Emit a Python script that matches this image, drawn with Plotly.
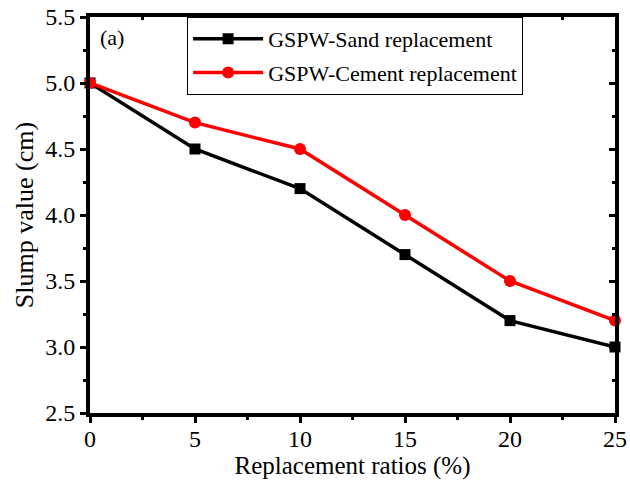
import plotly.graph_objects as go

ratios = [0, 5, 10, 15, 20, 25]
sand_slump = [5.0, 4.5, 4.2, 3.7, 3.2, 3.0]
cement_slump = [5.0, 4.7, 4.5, 4.0, 3.5, 3.2]
sand_name = "GSPW-Sand replacement"
cement_name = "GSPW-Cement replacement"
x_ticks = [0, 5, 10, 15, 20, 25]
y_ticks = [2.5, 3.0, 3.5, 4.0, 4.5, 5.0, 5.5]

FONT = "Liberation Serif"

fig = go.Figure()
fig.add_trace(go.Scatter(x=ratios, y=sand_slump, name=sand_name, mode="lines+markers",
                         legendgroup="a",
                         line=dict(color="black", width=3.5),
                         marker=dict(symbol="square", size=11, color="black"),
                         cliponaxis=False))
fig.add_trace(go.Scatter(x=ratios, y=cement_slump, name=cement_name, mode="lines+markers",
                         legendgroup="b",
                         line=dict(color="#ff0000", width=3.5),
                         marker=dict(symbol="circle", size=12, color="#ff0000"),
                         cliponaxis=False))
# invisible trace to activate mirrored axes
fig.add_trace(go.Scatter(x=[0], y=[2.5], xaxis="x2", yaxis="y2", mode="markers",
                         marker=dict(opacity=0), showlegend=False, hoverinfo="skip"))

line_common = dict(showline=True, linecolor="black", linewidth=4, showgrid=False,
                   zeroline=False, ticklen=6, tickwidth=3, tickcolor="black",
                   automargin=False)
tick_font = dict(family=FONT, size=24, color="black")

fig.update_layout(
    width=630, height=480,
    margin=dict(l=90, r=15, t=17, b=67),
    plot_bgcolor="white", paper_bgcolor="white",
    font=dict(family=FONT, color="black"),
    xaxis=dict(range=[0, 25], tickvals=x_ticks, ticks="outside", tickfont=tick_font,
               ticklabelstandoff=-5,
               minor=dict(dtick=2.5, ticks="outside", ticklen=3, tickwidth=3, tickcolor="black"),
               title=dict(text="Replacement ratios (%)", font=dict(family=FONT, size=25), standoff=0),
               **line_common),
    yaxis=dict(range=[2.5, 5.5], tickvals=y_ticks, tickformat=".1f", ticks="outside", tickfont=tick_font,
               minor=dict(dtick=0.25, ticks="outside", ticklen=3, tickwidth=3, tickcolor="black"),
               title=dict(text="Slump value (cm)", font=dict(family=FONT, size=26), standoff=5),
               **line_common),
    xaxis2=dict(overlaying="x", side="top", range=[0, 25], tickvals=x_ticks, ticks="inside",
                showticklabels=False,
                minor=dict(dtick=2.5, ticks="inside", ticklen=3, tickwidth=3, tickcolor="black"),
                **line_common),
    yaxis2=dict(overlaying="y", side="right", range=[2.5, 5.5], tickvals=y_ticks, ticks="inside",
                showticklabels=False,
                minor=dict(dtick=0.25, ticks="inside", ticklen=3, tickwidth=3, tickcolor="black"),
                **line_common),
    legend=dict(x=0.185, y=1.0, xanchor="left", yanchor="top",
                bgcolor="white", bordercolor="black", borderwidth=1,
                font=dict(family=FONT, size=22, color="black"),
                itemwidth=70, tracegroupgap=2),
    annotations=[dict(text="(a)", x=0.015, y=0.985, xref="paper", yref="paper",
                      xanchor="left", yanchor="top", showarrow=False,
                      font=dict(family=FONT, size=22, color="black"))],
)

fig.write_html("out.html")
